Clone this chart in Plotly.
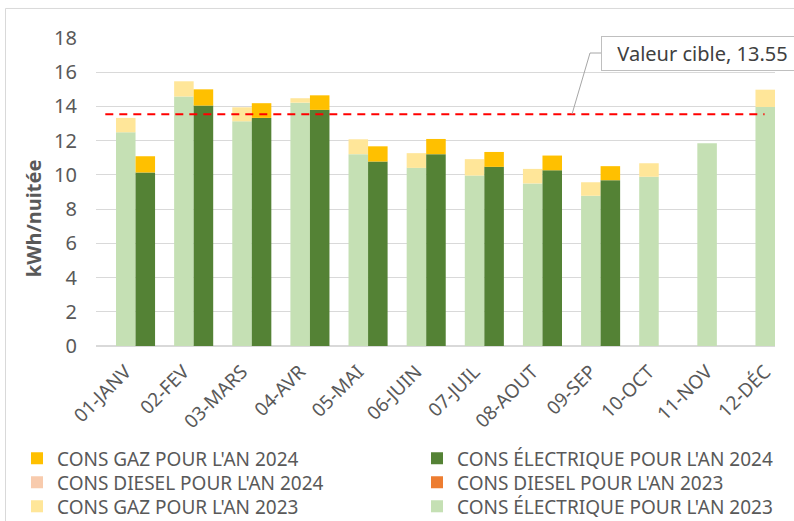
import plotly.graph_objects as go

months = ["01-JANV", "02-FEV", "03-MARS", "04-AVR", "05-MAI", "06-JUIN",
          "07-JUIL", "08-AOUT", "09-SEP", "10-OCT", "11-NOV", "12-DÉC"]

elec_2023 = [12.49, 14.58, 13.13, 14.22, 11.21, 10.41, 9.96, 9.50, 8.78, 9.89, 11.85, 13.97]
gaz_2023 = [0.84, 0.89, 0.82, 0.26, 0.87, 0.86, 0.96, 0.85, 0.79, 0.79, -0.13, 1.01]
diesel_2023 = [0] * 12

elec_2024 = [10.14, 14.05, 13.33, 13.80, 10.78, 11.21, 10.47, 10.27, 9.69, None, None, None]
gaz_2024 = [0.95, 0.95, 0.86, 0.85, 0.89, 0.89, 0.87, 0.86, 0.82, None, None, None]
diesel_2024 = [0] * 9 + [None] * 3

TARGET = 13.55
TARGET_LABEL = "Valeur cible, 13.55"
Y_TITLE = "kWh/nuitée"

C_ELEC23 = "#C5E0B4"
C_GAZ23 = "#FFE699"
C_DIESEL23 = "#ED7D31"
C_ELEC24 = "#548235"
C_GAZ24 = "#FFC000"
C_DIESEL24 = "#F8CBAD"

W = 0.336
FONT = "Noto Sans"
GREY = "#595959"


def stack_base(lower, upper):
    out = []
    for lo, up in zip(lower, upper):
        if lo is None or up is None:
            out.append(None)
        elif up >= 0:
            out.append(lo)
        else:
            out.append(0)
    return out


def stack_base2(a, b):
    out = []
    for x, y in zip(a, b):
        if x is None:
            out.append(None)
        else:
            out.append(x + (y if (y or 0) > 0 else 0))
    return out


# plot geometry (pixels)
L, R, T, B = 96, 19, 38, 175.3
PW = 794 - L - R
PH = 521 - T - B


def px(xp):
    return (xp - L) / PW


def py(yp):
    return (521 - B - yp) / PH


fig = go.Figure()

COL1, COL2 = 17, 417
ROWS = [457, 481, 505]
legend_layout = {}
legend_common = dict(orientation="v", yanchor="top", xanchor="left",
                     font=dict(size=19, color=GREY, family=FONT), tracegroupgap=0,
                     itemclick=False, itemdoubleclick=False, bgcolor="rgba(0,0,0,0)",
                     borderwidth=0)


def bar(name, y, color, offset, slot, base=None, clip=True):
    col, row = slot
    key = "legend" if not legend_layout else f"legend{len(legend_layout) + 1}"
    legend_layout[key] = dict(x=px(col), y=py(ROWS[row] - 18), **legend_common)
    fig.add_trace(go.Bar(
        x=months, y=y, base=base, name=name, width=W, offset=offset,
        marker=dict(color=color, line=dict(width=0)),
        legend=key, cliponaxis=clip,
    ))


bar("CONS ÉLECTRIQUE POUR L'AN 2023", elec_2023, C_ELEC23, -W, (COL2, 2))
bar("CONS GAZ POUR L'AN 2023", gaz_2023, C_GAZ23, -W, (COL1, 2),
    base=stack_base(elec_2023, gaz_2023), clip=False)
bar("CONS DIESEL POUR L'AN 2023", diesel_2023, C_DIESEL23, -W, (COL2, 1),
    base=stack_base2(elec_2023, gaz_2023))
bar("CONS ÉLECTRIQUE POUR L'AN 2024", elec_2024, C_ELEC24, 0, (COL2, 0))
bar("CONS GAZ POUR L'AN 2024", gaz_2024, C_GAZ24, 0, (COL1, 0),
    base=stack_base(elec_2024, gaz_2024))
bar("CONS DIESEL POUR L'AN 2024", diesel_2024, C_DIESEL24, 0, (COL1, 1),
    base=stack_base2(elec_2024, gaz_2024))

YMAX = 18

shapes = [
    dict(type="line", xref="x", yref="y", x0=-0.52, x1=10.82, y0=TARGET, y1=TARGET,
         line=dict(color="#FF0000", width=2, dash="8px,6px")),
    dict(type="path", xref="paper", yref="paper",
         path=f"M{px(572)},{TARGET / YMAX} L{px(590)},{py(53)} L{px(601)},{py(53)}",
         line=dict(color="#A6A6A6", width=1)),
    dict(type="rect", xref="paper", yref="paper", x0=px(5.5), x1=px(820),
         y0=py(560), y1=py(8.5), line=dict(color="#D9D9D9", width=1), layer="below"),
]

fig.update_layout(
    width=794, height=521,
    margin=dict(l=L, r=R, t=T, b=B, pad=0, autoexpand=False),
    paper_bgcolor="white", plot_bgcolor="white",
    barmode="overlay",
    font=dict(family=FONT, color=GREY),
    shapes=shapes,
    showlegend=True,
    annotations=[
        dict(xref="paper", yref="paper", x=px(601), y=py(53), xanchor="left", yanchor="middle",
             text=TARGET_LABEL, showarrow=False,
             font=dict(size=20, color="#404040", family=FONT),
             bgcolor="white", bordercolor="#BFBFBF", borderwidth=1, borderpad=4,
             width=193, height=25, align="center"),
        dict(xref="paper", yref="paper", x=px(33), y=py(218), xanchor="center",
             yanchor="middle", text=f"<b>{Y_TITLE}</b>", textangle=-90, showarrow=False,
             font=dict(size=20, color=GREY, family=FONT)),
    ],
    **legend_layout,
)

fig.update_xaxes(type="category", categoryorder="array", categoryarray=months,
                 range=[-0.68, 11.0], tickangle=-45, showgrid=False,
                 tickfont=dict(size=19, color=GREY, family=FONT), ticks="",
                 ticklabelstandoff=10, ticklabelshift=-10, showline=False, zeroline=False)
fig.update_yaxes(range=[0, YMAX], dtick=2, showgrid=True, gridcolor="#D9D9D9", gridwidth=1,
                 zeroline=True, zerolinecolor="#D9D9D9", zerolinewidth=1.5,
                 tickfont=dict(size=20, color=GREY, family=FONT), ticklabelstandoff=18)

fig.write_html("out.html", config={"displayModeBar": False},
               post_script="document.body.style.margin='0';")
